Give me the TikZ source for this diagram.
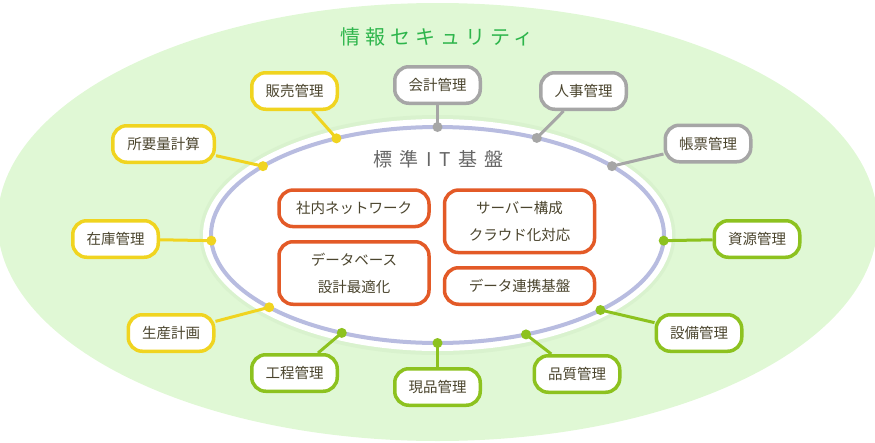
\documentclass[tikz,border=0pt]{standalone}
\usepackage{fontspec}
\usepackage{xcolor}
\usepackage{tikz}
\setmainfont{Noto Sans CJK JP}
\newfontfamily\secfont[LetterSpace=25]{Noto Sans CJK JP}
\newfontfamily\basefont[LetterSpace=40]{Noto Sans CJK JP}
\definecolor{bg}{HTML}{E0F8D5}
\definecolor{glow}{HTML}{D9F2CE}
\definecolor{yel}{HTML}{F0D420}
\definecolor{gry}{HTML}{A6A6A6}
\definecolor{grn}{HTML}{8DC21F}
\definecolor{org}{HTML}{E35A27}
\definecolor{lav}{HTML}{B8BCE0}
\definecolor{txt}{HTML}{4B452E}
\definecolor{secgreen}{HTML}{2DB54B}
\definecolor{basegray}{HTML}{666666}

\begin{document}
\begin{tikzpicture}[x=1pt,y=-1pt,
    box/.style={draw, line width=3.5pt, rounded corners=14pt, fill=white, text=txt,
      minimum width=85.5pt, minimum height=36.5pt, inner sep=0pt, align=center,
      font=\fontsize{14.5}{27}\selectfont},
    ybox/.style={box, draw=yel},
    gbox/.style={box, draw=gry},
    lbox/.style={box, draw=grn},
    obox/.style={box, draw=org, minimum width=150pt},
    link/.style={line width=3pt}]
  \useasboundingbox (0,0) rectangle (875,442);
  \fill[bg] (437.5,222) ellipse (440pt and 219pt);
  \fill[glow] (437.5,235) ellipse (238pt and 120pt);
  \fill[white] (437.5,235) ellipse (234.5pt and 116pt);
  \draw[lav, line width=4pt] (437.5,235) ellipse (226.5pt and 108pt);
  \coordinate (c) at (437.5,235);

  \node[text=secgreen, font=\secfont\fontsize{20}{24}\selectfont] (sec) at (437,37) {情報セキュリティ};
  \node[text=basegray, font=\basefont\fontsize{19}{24}\selectfont] (base) at (438.5,159) {標準IT基盤};

  \node[obox] (lan) at (354,208.3) {社内ネットワーク};
  \node[obox, minimum height=62.5pt] (db) at (354,273) {データベース\\設計最適化};
  \node[obox, minimum height=62.5pt] (srv) at (519.5,221.3) {サーバー構成\\クラウド化対応};
  \node[obox] (dlink) at (519.5,286) {データ連携基盤};

  \path (c) ++(-116.5:226.5 and 108) coordinate (pHanbai);
  \path (c) ++(-140.4:226.5 and 108) coordinate (pShoyo);
  \path (c) ++(177:226.5 and 108) coordinate (pZaiko);
  \path (c) ++(138:226.5 and 108) coordinate (pSeisan);
  \path (c) ++(-90:226.5 and 108) coordinate (pKaikei);
  \path (c) ++(-64:226.5 and 108) coordinate (pJinji);
  \path (c) ++(-39.6:226.5 and 108) coordinate (pChohyo);
  \path (c) ++(3:226.5 and 108) coordinate (pShigen);
  \path (c) ++(44:226.5 and 108) coordinate (pSetsubi);
  \path (c) ++(67:226.5 and 108) coordinate (pHinshitsu);
  \path (c) ++(90:226.5 and 108) coordinate (pGenpin);
  \path (c) ++(115:226.5 and 108) coordinate (pKotei);

  \node[ybox] (hanbai) at (294.5,91) {販売管理};
  \node[ybox, minimum width=101.5pt] (shoyo) at (163.5,144) {所要量計算};
  \node[ybox] (zaiko) at (115.5,239) {在庫管理};
  \node[ybox] (seisan) at (171,333) {生産計画};
  \node[gbox] (kaikei) at (437.5,85) {会計管理};
  \node[gbox] (jinji) at (583.5,91) {人事管理};
  \node[gbox] (chohyo) at (708,143.5) {帳票管理};
  \node[lbox] (shigen) at (757,239) {資源管理};
  \node[lbox] (setsubi) at (699,333) {設備管理};
  \node[lbox] (hinshitsu) at (577,374) {品質管理};
  \node[lbox] (genpin) at (437.5,387) {現品管理};
  \node[lbox] (kotei) at (294.5,373) {工程管理};

  \draw[link, yel] (hanbai) -- (pHanbai);
  \draw[link, yel] (shoyo) -- (pShoyo);
  \draw[link, yel] (zaiko) -- (pZaiko);
  \draw[link, yel] (seisan) -- (pSeisan);
  \draw[link, gry] (kaikei) -- (pKaikei);
  \draw[link, gry] (jinji) -- (pJinji);
  \draw[link, gry] (chohyo) -- (pChohyo);
  \draw[link, grn] (shigen) -- (pShigen);
  \draw[link, grn] (setsubi) -- (pSetsubi);
  \draw[link, grn] (hinshitsu) -- (pHinshitsu);
  \draw[link, grn] (genpin) -- (pGenpin);
  \draw[link, grn] (kotei) -- (pKotei);

  \fill[yel] (pHanbai) circle (5pt);
  \fill[yel] (pShoyo) circle (5pt);
  \fill[yel] (pZaiko) circle (5pt);
  \fill[yel] (pSeisan) circle (5pt);
  \fill[gry] (pKaikei) circle (5pt);
  \fill[gry] (pJinji) circle (5pt);
  \fill[gry] (pChohyo) circle (5pt);
  \fill[grn] (pShigen) circle (5pt);
  \fill[grn] (pSetsubi) circle (5pt);
  \fill[grn] (pHinshitsu) circle (5pt);
  \fill[grn] (pGenpin) circle (5pt);
  \fill[grn] (pKotei) circle (5pt);
\end{tikzpicture}
\end{document}
